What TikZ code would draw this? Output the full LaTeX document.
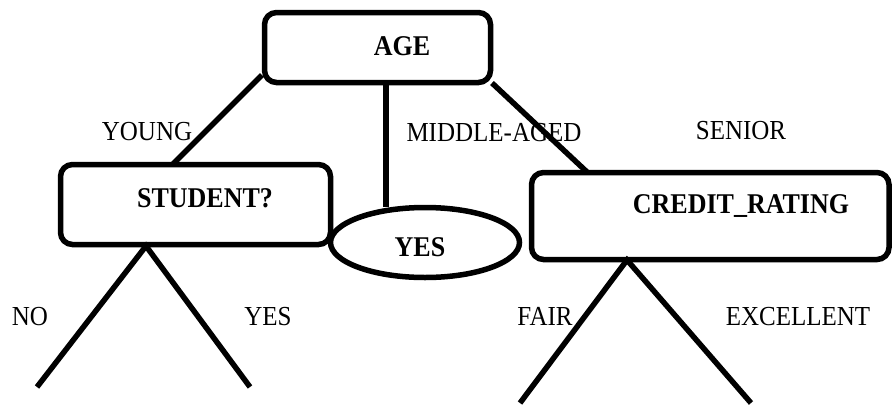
\documentclass[tikz,border=0pt]{standalone}
\usepackage{fontspec}
\setmainfont{Liberation Serif}
\usetikzlibrary{shapes.geometric}
\newcommand{\tallr}[1]{\scalebox{1}[1.1]{#1}}
\begin{document}
\begin{tikzpicture}[x=1pt,y=-1pt,
  box/.style={draw,line width=5.5pt,rounded corners=12pt},
  conn/.style={line width=5.5pt},
  lbl/.style={anchor=base,inner sep=0pt,font=\fontsize{25}{30}\selectfont},
  blbl/.style={anchor=base,inner sep=0pt,font=\fontsize{26}{30}\selectfont\bfseries}]
\useasboundingbox (0,0) rectangle (892,405);
% boxes
\draw[box] (264.5,12.5) rectangle (490.5,82.5);
\draw[box] (60.5,164.5) rectangle (330.5,244.5);
\draw[box] (531.5,172.5) rectangle (889,259.5);
\node[draw,line width=5.5pt,ellipse,minimum width=189pt,minimum height=70pt,inner sep=0pt] (yesleaf) at (425,242.5) {};
% box labels
\node[blbl] (age) at (402,55) {\tallr{AGE}};
\node[blbl] (student) at (205,207) {\tallr{STUDENT?}};
\node[blbl] (yes) at (420,256) {\tallr{YES}};
\node[blbl] (credit) at (741,213) {\tallr{CREDIT\_RATING}};
% connector end points
\coordinate (a1) at (262,75);
\coordinate (s1) at (173,164);
\coordinate (a2) at (386,85);
\coordinate (e1) at (386,207);
\coordinate (a3) at (492,83);
\coordinate (c1) at (587,172);
\coordinate (s2) at (146,246);
\coordinate (sl) at (37,387);
\coordinate (sr) at (250,387);
\coordinate (c2) at (627,260);
\coordinate (cl) at (520,403);
\coordinate (cr) at (751,403);
\draw[conn] (a1) -- (s1);
\draw[conn] (a2) -- (e1);
\draw[conn] (a3) -- (c1);
\draw[conn] (sl) -- (s2) -- (sr);
\draw[conn] (cl) -- (c2) -- (cr);
% branch labels
\node[lbl] (young) at (147,140) {\tallr{YOUNG}};
\node[lbl] (middle) at (494,141) {\tallr{MIDDLE-AGED}};
\node[lbl] (senior) at (741,139) {\tallr{SENIOR}};
\node[lbl] (no) at (30,325) {\tallr{NO}};
\node[lbl] (yes2) at (268,325) {\tallr{YES}};
\node[lbl] (fair) at (545,325) {\tallr{FAIR}};
\node[lbl] (exc) at (798,325) {\tallr{EXCELLENT}};
\end{tikzpicture}
\end{document}
